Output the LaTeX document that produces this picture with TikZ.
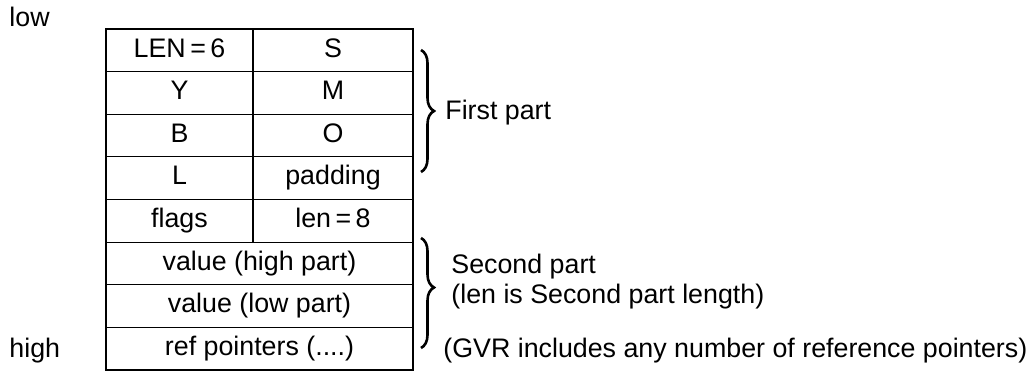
\documentclass[tikz,border=0pt]{standalone}
\usepackage{fontspec}
\setmainfont{Liberation Sans}
\usetikzlibrary{positioning,decorations.pathreplacing}
\tikzset{
 cell/.style={draw,line width=0.6pt,inner sep=0pt,outer sep=0pt,
  minimum height=21.3pt,text height=9.6pt,text depth=2.8pt},
 narrow/.style={cell,minimum width=73.5pt},
 wide/.style={cell,minimum width=80pt},
 full/.style={cell,minimum width=153.5pt},
 curly/.style={decorate,decoration={brace,amplitude=6.5pt},line width=1.3pt},
 note/.style={anchor=west,inner sep=0pt}
}

\begin{document}
\begin{tikzpicture}[x=0.5pt,y=-0.5pt,font=\fontsize{13.4}{16}\selectfont]
\useasboundingbox (0,0) rectangle (1032,375);
% two-column rows
\foreach \n/\a/\b [count=\i from 0] in {r1/LEN\,=\,6/S,r2/Y/M,r3/B/O,r4/L/padding,r5/flags/len\,=\,8}{
 \node[narrow,anchor=north west] (\n a) at (106,29+42.625*\i) {\a};
 \node[wide,right=0pt of \n a] (\n b) {\b};
}
% full-width rows
\node[full,anchor=north west] (valhi) at (r5a.south west) {value (high part)};
\node[full,below=0pt of valhi] (vallo) {value (low part)};
\node[full,below=0pt of vallo] (refs) {ref pointers (....)};
\node[note] (low) at (9,17) {low};
\node[note] (high) at (9,351) {high};
% braces
\coordinate (fa) at (421,50);
\coordinate (fb) at (421,172);
\coordinate (sa) at (421,238);
\coordinate (sb) at (421,348);
\draw[curly] (fa) -- (fb);
\draw[curly,decoration={aspect=0.45}] (sa) -- (sb);
\node[note] (first) at (445,113) {First part};
\node[note] (second) at (451,267) {Second part};
\node[note] (sublen) at (451,297) {(len is Second part length)};
\node[note] (gvr) at (443,351) {(GVR includes any number of reference pointers)};
\end{tikzpicture}
\end{document}
